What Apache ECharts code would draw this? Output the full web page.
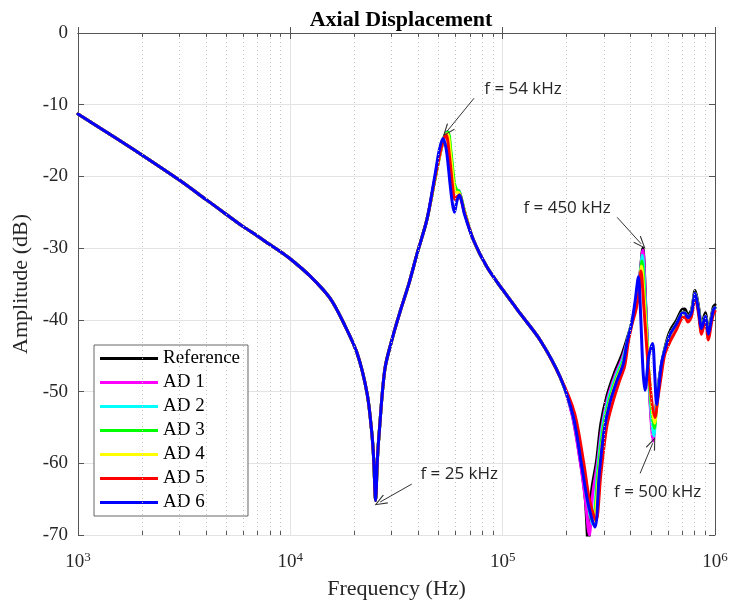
<!DOCTYPE html>
<html><head><meta charset="utf-8">
<script src="https://cdn.jsdelivr.net/npm/echarts@6/dist/echarts.min.js"></script>
<style>html,body{margin:0;padding:0;background:#fff}#c{width:734px;height:610px}</style>
</head><body><div id="c"></div>
<script>
const seriesNames = ['Reference', 'AD 1', 'AD 2', 'AD 3', 'AD 4', 'AD 5', 'AD 6'];
const seriesColors = ['#000000', '#ff00ff', '#00ffff', '#00ff00', '#ffff00', '#ff0000', '#0000ff'];
const yTicks = [-70, -60, -50, -40, -30, -20, -10, 0];
const minorFreqs = [2000,3000,4000,5000,6000,7000,8000,9000,20000,30000,40000,50000,60000,70000,80000,90000,200000,300000,400000,500000,600000,700000,800000,900000];

// shared low-frequency part (Hz, dB)
const freqLow = [1000, 1500, 2000, 3000, 4000, 5000, 6000, 7000, 8000, 9000, 10000, 12400, 15400, 17800, 20600, 23000, 24200, 24700, 25200, 25700, 26200, 27900, 30600, 33000, 36300, 39500, 44000];
const dbLow   = [-11.3, -14.6, -17.0, -20.5, -23.2, -25.3, -27.0, -28.3, -29.5, -30.5, -31.5, -33.9, -37.0, -40.4, -44.6, -50.3, -55.8, -59.5, -65.2, -59.5, -55.8, -46.8, -42.0, -38.7, -34.8, -30.8, -26.0];
// shared mid part
const freqMid = [72900, 84200, 100000, 120800, 150000, 186000];
const dbMid   = [-28.9, -32.6, -35.8, -39.1, -42.8, -47.9];
// tail
const freqTail = [615000, 660000, 697000, 720000, 745000, 775000, 806000, 835000, 865000, 900000, 931000, 960000, 982000, 1000000];
const dbTail    = [-42.0, -40.5, -39.1, -39.0, -39.7, -39.0, -36.3, -38.5, -41.2, -39.5, -42.0, -40.0, -38.6, -38.3];
const refTailDb = [-41.5, -40.0, -38.6, -38.5, -39.3, -38.6, -35.9, -38.0, -40.8, -39.0, -41.5, -39.6, -38.2, -37.9];
const ad5TailDb = [-43.0, -41.3, -39.8, -39.6, -40.3, -39.5, -36.8, -39.0, -42.0, -40.0, -42.8, -40.6, -39.2, -38.8];

// Reference
const refP1F  = [48000, 51000, 53000, 54600, 56500, 58600, 60300, 62000, 64000, 66000];
const refP1Db = [-20.3, -16.5, -14.6, -13.8, -17.0, -21.0, -22.0, -22.0, -23.2, -24.8];
const refHiF  = [212000, 233000, 245000, 253000, 262000, 277000, 290000, 309000, 335000, 364000, 384000, 405000, 425000, 442000, 457000, 472000, 492000, 512000, 528000, 550000, 580000];
const refHiDb = [-53.0, -60.0, -65.0, -71.5, -64.0, -59.6, -54.5, -50.7, -47.5, -44.9, -42.8, -40.5, -37.5, -34.0, -30.0, -38.0, -50.0, -56.3, -52.0, -47.5, -44.0];
// AD 1
const ad1P1F  = [48000, 51000, 53000, 54600, 56500, 58600, 60300, 62000, 64000, 66000];
const ad1P1Db = [-20.3, -16.5, -14.6, -13.9, -17.0, -21.1, -22.1, -22.1, -23.3, -24.8];
const ad1HiF  = [212000, 233000, 245000, 256000, 265000, 280000, 293000, 312000, 338000, 367000, 386000, 405000, 425000, 442000, 457000, 472000, 492000, 512000, 528000, 550000, 580000];
const ad1HiDb = [-53.2, -60.2, -65.0, -70.0, -64.5, -59.8, -55.0, -51.0, -47.8, -45.2, -43.0, -40.5, -37.6, -34.2, -30.3, -38.5, -50.5, -56.9, -52.3, -47.7, -44.2];
// AD 2
const ad2P1F  = [48000, 51000, 53000, 55000, 57000, 59000, 60500, 62000, 64000, 66000];
const ad2P1Db = [-20.3, -16.4, -14.5, -13.8, -17.0, -21.0, -22.0, -22.0, -23.2, -24.8];
const ad2HiF  = [214000, 236000, 250000, 265000, 280000, 295000, 315000, 340000, 370000, 386000, 405000, 425000, 442000, 455000, 470000, 492000, 515000, 530000, 552000, 580000];
const ad2HiDb = [-53.2, -60.0, -65.0, -68.5, -61.0, -55.0, -51.0, -48.0, -45.3, -43.0, -40.5, -37.8, -34.5, -31.0, -38.0, -49.5, -56.2, -52.0, -47.5, -44.2];
// AD 3
const ad3P1F  = [48000, 51000, 53000, 55300, 57200, 59200, 60600, 62000, 64000, 66000];
const ad3P1Db = [-20.4, -16.5, -14.5, -13.8, -16.8, -20.8, -21.8, -22.0, -23.2, -24.8];
const ad3HiF  = [215000, 237000, 251000, 267000, 282000, 297000, 317000, 342000, 372000, 387000, 405000, 425000, 442000, 453000, 468000, 492000, 518000, 533000, 553000, 580000];
const ad3HiDb = [-53.3, -60.2, -65.0, -68.3, -61.0, -55.3, -51.3, -48.2, -45.5, -43.0, -40.5, -38.0, -35.0, -31.8, -38.0, -49.0, -55.1, -51.5, -47.5, -44.2];
// AD 4
const ad4P1F  = [48000, 51000, 53000, 54900, 57000, 59000, 60500, 62000, 64000, 66000];
const ad4P1Db = [-20.3, -16.5, -14.6, -14.0, -17.3, -21.3, -22.2, -22.2, -23.3, -24.8];
const ad4HiF  = [216000, 238000, 252000, 268000, 284000, 299000, 319000, 344000, 373000, 388000, 405000, 425000, 442000, 451000, 466000, 492000, 520000, 535000, 555000, 580000];
const ad4HiDb = [-53.3, -60.3, -65.0, -68.2, -61.2, -55.5, -51.5, -48.3, -45.7, -43.0, -40.6, -38.2, -35.3, -32.5, -38.0, -48.5, -54.4, -51.2, -47.5, -44.3];
// AD 5
const ad5P1F  = [48000, 51000, 53000, 54200, 56300, 58300, 59500, 61000, 62600, 64000, 66000];
const ad5P1Db = [-20.2, -16.4, -14.6, -14.2, -17.5, -21.8, -23.2, -22.8, -22.6, -23.4, -25.0];
const ad5HiF  = [218000, 241000, 256000, 275000, 290000, 309000, 330000, 355000, 375000, 390000, 405000, 425000, 440000, 448000, 463000, 490000, 522000, 538000, 558000, 580000];
const ad5HiDb = [-53.0, -60.0, -65.0, -68.0, -61.5, -54.9, -51.5, -48.5, -46.5, -43.2, -40.8, -38.5, -35.8, -33.2, -38.5, -48.0, -53.6, -51.0, -47.8, -44.8];
// AD 6
const ad6P1F  = [48000, 50300, 52300, 54300, 56500, 58000, 59300, 60800, 62600, 64500, 66000];
const ad6P1Db = [-19.8, -16.3, -14.7, -16.3, -21.0, -23.8, -25.0, -23.5, -22.6, -23.8, -25.2];
const ad6HiF  = [215000, 236000, 252000, 272000, 285000, 300000, 320000, 345000, 370000, 386000, 405000, 420000, 436000, 446000, 458000, 468000, 488000, 508000, 520000, 531000, 545000, 560000, 580000];
const ad6HiDb = [-53.5, -60.5, -65.5, -68.9, -61.5, -55.5, -51.5, -48.5, -46.1, -43.0, -40.5, -37.5, -34.0, -39.0, -47.0, -49.8, -45.0, -43.3, -47.5, -51.8, -49.0, -46.1, -44.2];

// annotations
const annoTexts = ['f = 54 kHz', 'f = 450 kHz', 'f = 25 kHz', 'f = 500 kHz'];
const annoTextPos = [[124700, -7.8], [201000, -24.4], [62400, -61.5], [537000, -64.0]];
const annoArrowFrom = [[73300, -9.1], [346000, -25.7], [37300, -62.9], [444000, -61.4]];
const annoArrowTo = [[54700, -13.7], [449000, -29.4], [26500, -65.4], [509000, -57.2]];

function zip(f, d) { return f.map((v, i) => [v, d[i]]); }
function build(p1F, p1Db, hiF, hiDb, tailDb) {
  return [].concat(zip(freqLow, dbLow), zip(p1F, p1Db), zip(freqMid, dbMid), zip(hiF, hiDb), zip(freqTail, tailDb));
}
const seriesData = [
  build(refP1F, refP1Db, refHiF, refHiDb, refTailDb),
  build(ad1P1F, ad1P1Db, ad1HiF, ad1HiDb, dbTail),
  build(ad2P1F, ad2P1Db, ad2HiF, ad2HiDb, dbTail),
  build(ad3P1F, ad3P1Db, ad3HiF, ad3HiDb, dbTail),
  build(ad4P1F, ad4P1Db, ad4HiF, ad4HiDb, dbTail),
  build(ad5P1F, ad5P1Db, ad5HiF, ad5HiDb, ad5TailDb),
  build(ad6P1F, ad6P1Db, ad6HiF, ad6HiDb, dbTail)
];

const SERIF = '"Liberation Serif", "Times New Roman", serif';
const axisGray = '#555555';
const chart = echarts.init(document.getElementById('c'), null, {renderer: 'canvas'});

const curves = seriesNames.map((n, i) => ({
  name: n, type: 'line', data: seriesData[i], showSymbol: false, symbol: 'none',
  smooth: 0.3, clip: true, z: 3,
  lineStyle: {width: 3, color: seriesColors[i], join: 'round', cap: 'round'}, itemStyle: {color: seriesColors[i]}
}));

const arrowPath = 'path://M5,0 L10,12 L9,12.6 L5,2.6 L1,12.6 L0,12 Z';

const helpers = [
  { name: 'minorGrid', type: 'line', data: [], z: 1, silent: true,
    markLine: { silent: true, symbol: 'none', animation: false, label: {show: false},
      lineStyle: {type: [1, 3], color: '#c4c4c4', width: 1},
      data: minorFreqs.map(f => ({xAxis: f})) } },
  { name: 'minorTicks', type: 'line', data: [], z: 4, silent: true,
    markLine: { silent: true, symbol: 'none', animation: false, label: {show: false},
      lineStyle: {type: 'solid', color: axisGray, width: 1},
      data: minorFreqs.map(f => [{coord: [f, -70]}, {coord: [f, -69.45]}])
        .concat(minorFreqs.map(f => [{coord: [f, 0]}, {coord: [f, -0.55]}])) } },
  { name: 'annotations', type: 'line', data: [], z: 10, silent: true,
    markLine: { silent: true, symbol: ['none', arrowPath], symbolSize: [10, 13], animation: false,
      label: {show: false}, lineStyle: {type: 'solid', color: '#333333', width: 1},
      data: annoArrowFrom.map((p, i) => [{coord: p}, {coord: annoArrowTo[i]}]) },
    markPoint: { silent: true, symbol: 'rect', symbolSize: 1, animation: false,
      itemStyle: {color: 'rgba(0,0,0,0)'},
      label: {show: true, position: 'inside', fontFamily: '"Open Sans", "Noto Sans", sans-serif', fontSize: 17, color: '#262626'},
      data: annoTextPos.map((p, i) => ({coord: p, value: annoTexts[i], label: {formatter: annoTexts[i]}})) } }
];

chart.setOption({
  animation: false,
  backgroundColor: '#ffffff',
  title: { text: 'Axial Displacement', left: 396, top: 4, textAlign: 'center',
    textStyle: {fontFamily: SERIF, fontSize: 22, fontWeight: 'bold', color: '#000'} },
  grid: { left: 78, right: 19, top: 33, bottom: 75 },
  legend: {
    data: seriesNames, orient: 'vertical', left: 94, top: 345,
    icon: 'rect', itemWidth: 58, itemHeight: 3, itemGap: 5,
    padding: [4, 8, 4, 6], backgroundColor: '#ffffff', borderColor: '#666666', borderWidth: 1,
    textStyle: {fontFamily: SERIF, fontSize: 19, color: '#000'}, selectedMode: false
  },
  xAxis: [
    { type: 'log', logBase: 10, min: 1000, max: 1000000, position: 'bottom',
      name: 'Frequency (Hz)', nameLocation: 'middle', nameGap: 43,
      nameTextStyle: {fontFamily: SERIF, fontSize: 22, color: '#262626'},
      axisLine: {show: true, lineStyle: {color: axisGray}},
      axisTick: {show: true, inside: true, length: 6, lineStyle: {color: axisGray}},
      splitLine: {show: true, lineStyle: {color: '#e3e3e3', width: 1}},
      axisLabel: { margin: 16, color: '#262626',
        formatter: v => '{b|10}{s|' + Math.round(Math.log10(v)) + '}',
        rich: { b: {fontFamily: SERIF, fontSize: 19, color: '#262626'},
                s: {fontFamily: SERIF, fontSize: 13, color: '#262626', padding: [0, 0, 9, 0], verticalAlign: 'bottom'} } } },
    { type: 'log', logBase: 10, min: 1000, max: 1000000, position: 'top',
      axisLine: {show: true, lineStyle: {color: axisGray}},
      axisTick: {show: true, inside: true, length: 6, lineStyle: {color: axisGray}},
      splitLine: {show: false}, axisLabel: {show: false} }
  ],
  yAxis: [
    { type: 'value', min: -70, max: 0, interval: 10, position: 'left',
      name: 'Amplitude (dB)', nameLocation: 'middle', nameGap: 46,
      nameTextStyle: {fontFamily: SERIF, fontSize: 22, color: '#262626'},
      axisLine: {show: true, lineStyle: {color: axisGray}},
      axisTick: {show: true, inside: true, length: 6, lineStyle: {color: axisGray}},
      splitLine: {show: true, lineStyle: {color: '#e3e3e3', width: 1}},
      axisLabel: {margin: 10, fontFamily: SERIF, fontSize: 19, color: '#262626',
        customValues: yTicks} },
    { type: 'value', min: -70, max: 0, interval: 10, position: 'right',
      axisLine: {show: true, lineStyle: {color: axisGray}},
      axisTick: {show: true, inside: true, length: 6, lineStyle: {color: axisGray}},
      splitLine: {show: false}, axisLabel: {show: false} }
  ],
  series: helpers.concat(curves)
});
</script></body></html>
